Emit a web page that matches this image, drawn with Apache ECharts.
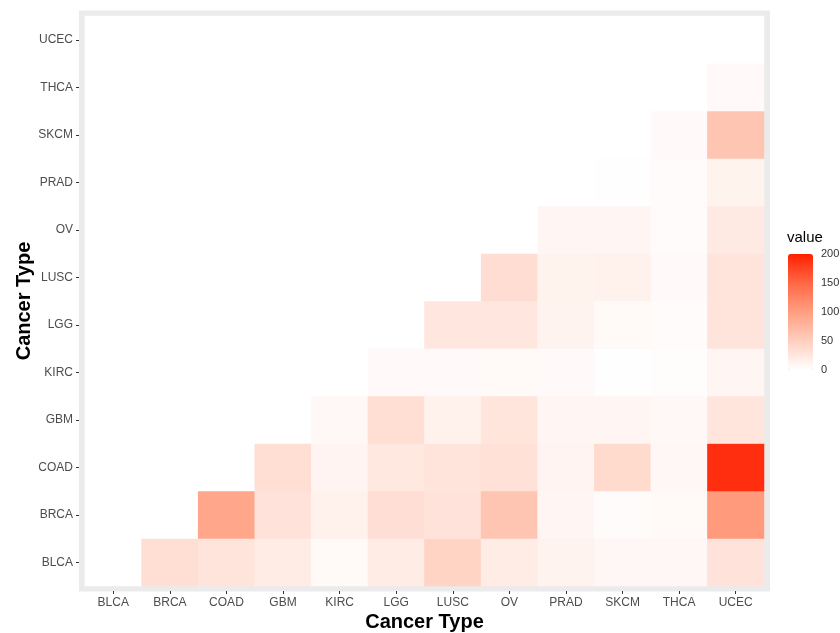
<!DOCTYPE html>
<html>
<head>
<meta charset="utf-8">
<script src="https://cdn.jsdelivr.net/npm/echarts@6/dist/echarts.min.js"></script>
<style>html,body{margin:0;padding:0;background:#fff}#c{width:840px;height:633px}</style>
</head>
<body>
<div id="c"></div>
<script>
// Categories (x left→right, y bottom→top)
const cancerTypes = ['BLCA','BRCA','COAD','GBM','KIRC','LGG','LUSC','OV','PRAD','SKCM','THCA','UCEC'];
// One row of values per y category, x order as cancerTypes
const rowBLCA = [0,34,28,20,6,20,45,20,12,8,8,30];
const rowBRCA = [0,0,92,30,14,33,29,60,9,4,6,104];
const rowCOAD = [0,0,0,34,11,24,28,31,11,38,8,190];
const rowGBM  = [0,0,0,0,7,34,14,27,10,9,7,27];
const rowKIRC = [0,0,0,0,0,5,5,6,5,1,2,10];
const rowLGG  = [0,0,0,0,0,0,25,25,12,6,4,28];
const rowLUSC = [0,0,0,0,0,0,0,35,13,15,5,28];
const rowOV   = [0,0,0,0,0,0,0,0,9,9,4,22];
const rowPRAD = [0,0,0,0,0,0,0,0,0,1,4,13];
const rowSKCM = [0,0,0,0,0,0,0,0,0,0,5,60];
const rowTHCA = [0,0,0,0,0,0,0,0,0,0,0,5];
const rowUCEC = [0,0,0,0,0,0,0,0,0,0,0,0];
const legendTicks = [0,50,100,150,200];

const rows = [rowBLCA,rowBRCA,rowCOAD,rowGBM,rowKIRC,rowLGG,rowLUSC,rowOV,rowPRAD,rowSKCM,rowTHCA,rowUCEC];
const data = [];
rows.forEach((r, yi) => r.forEach((v, xi) => data.push([xi, yi, v])));

const chart = echarts.init(document.getElementById('c'), null, {renderer:'canvas'});
const FONT = 'Liberation Sans, Arial, Helvetica, sans-serif';
chart.setOption({
  backgroundColor: '#fff',
  animation: false,
  title: {
    text: 'value', left: 787, top: 230, padding: 0,
    textStyle: {fontFamily: FONT, fontSize: 15, fontWeight: 'normal', color: '#000'}
  },
  graphic: [{
    type: 'rect', z: -10, silent: true,
    shape: {x: 79, y: 10.5, width: 691, height: 581},
    style: {fill: '#ebebeb'}
  }],
  grid: [
    {left: 85, right: 76, top: 16, bottom: 47, containLabel: false, outerBoundsMode: 'none'},
    {left: 788, width: 25, top: 254, height: 116, outerBoundsMode: 'none'}
  ],
  xAxis: [{
    type: 'category', data: cancerTypes, gridIndex: 0, offset: 5,
    axisLine: {show: false},
    axisTick: {show: true, alignWithLabel: true, length: 3, lineStyle: {color: '#333'}},
    axisLabel: {interval: 0, color: '#4d4d4d', fontFamily: FONT, fontSize: 12, margin: 6},
    splitLine: {show: false},
    name: 'Cancer Type', nameLocation: 'middle', nameGap: 21, nameMoveOverlap: false,
    nameTextStyle: {fontFamily: FONT, fontSize: 20, fontWeight: 'bold', color: '#000'}
  }, {
    type: 'value', gridIndex: 1, show: false, min: 0, max: 1
  }],
  yAxis: [{
    type: 'category', data: cancerTypes, gridIndex: 0, offset: 6,
    axisLine: {show: false},
    axisTick: {show: true, alignWithLabel: true, length: 3, lineStyle: {color: '#333'}},
    axisLabel: {interval: 0, color: '#4d4d4d', fontFamily: FONT, fontSize: 12, margin: 6},
    splitLine: {show: false},
    name: 'Cancer Type', nameLocation: 'middle', nameGap: 45, nameRotate: 90, nameMoveOverlap: false,
    nameTextStyle: {fontFamily: FONT, fontSize: 20, fontWeight: 'bold', color: '#000'}
  }, {
    type: 'value', gridIndex: 1, position: 'right', min: legendTicks[0], max: legendTicks[legendTicks.length-1], interval: 50,
    axisLine: {show: false},
    axisTick: {show: true, inside: true, length: 4, lineStyle: {color: '#fff'}},
    axisLabel: {color: '#333', fontFamily: FONT, fontSize: 11, margin: 8},
    splitLine: {show: false},
    z: 10
  }],
  visualMap: {
    type: 'continuous', min: 0, max: 200, calculable: false, seriesIndex: 0,
    orient: 'vertical', left: 788, top: 254, itemWidth: 25, itemHeight: 116,
    padding: 0, text: null, showLabel: false,
    inRange: {color: ['#ffffff', '#ffcfbf', '#ff9e81', '#ff6846', '#ff2000']}
  },
  series: [{
    type: 'heatmap', xAxisIndex: 0, yAxisIndex: 0, data: data,
    itemStyle: {borderWidth: 0},
    emphasis: {disabled: true}
  }]
});
</script>
</body>
</html>
